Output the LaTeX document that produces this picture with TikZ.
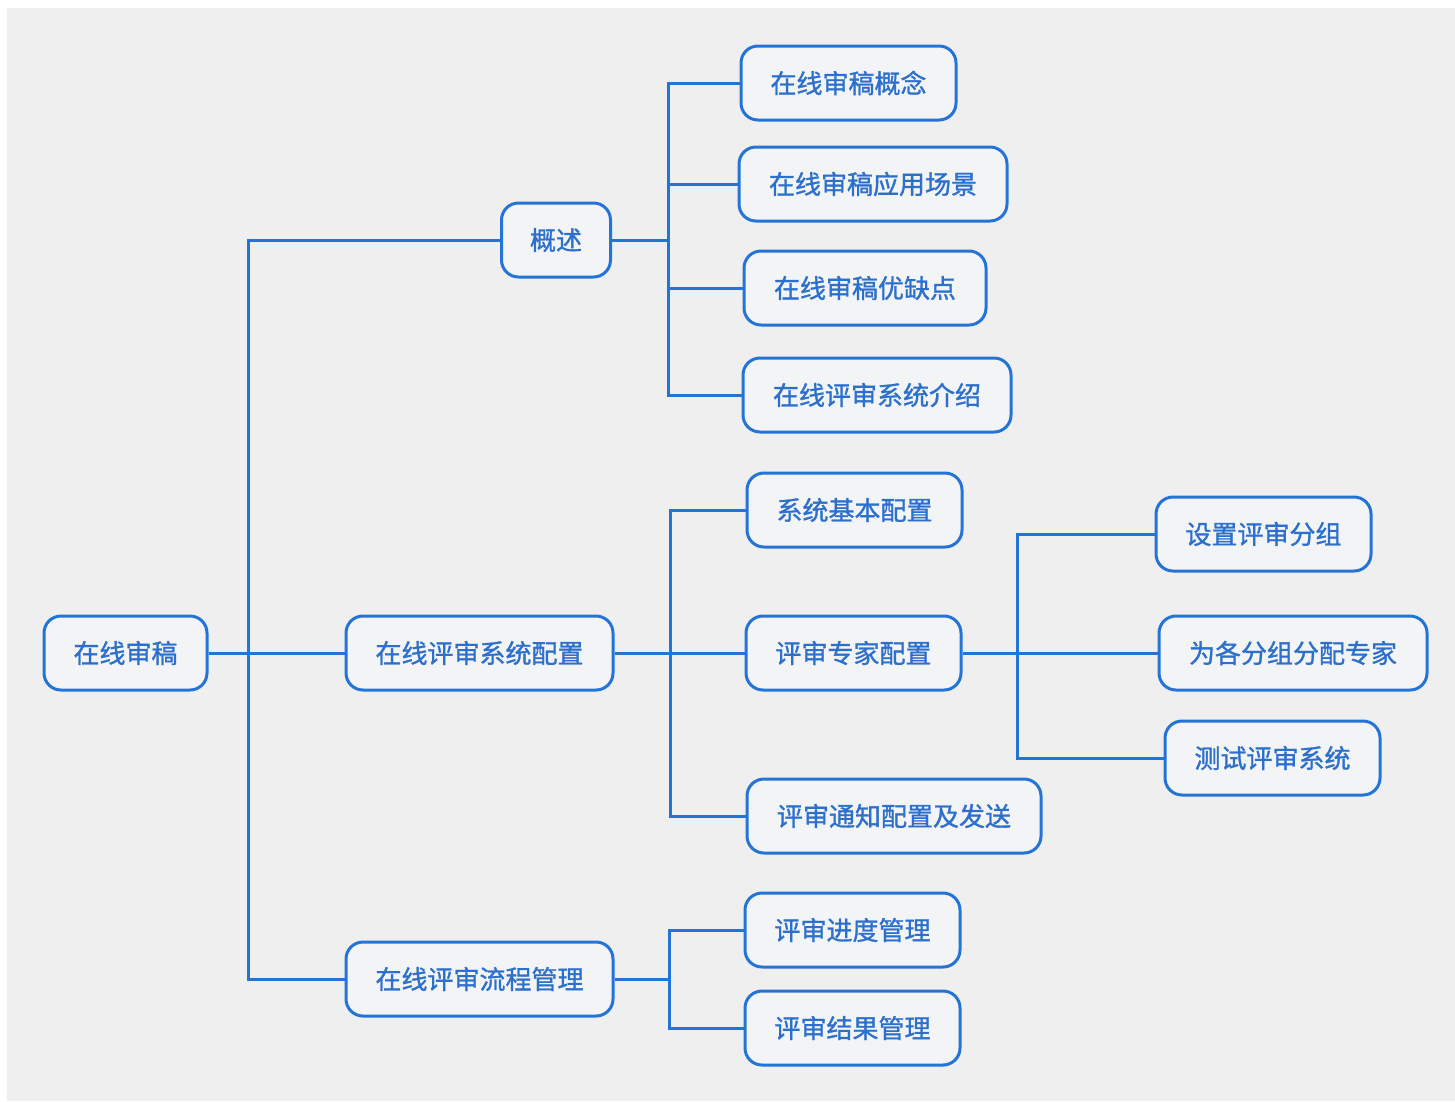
\documentclass[tikz,border=0pt]{standalone}
\usepackage{fontspec}
\newfontfamily\cjk[FakeBold=1.2]{Noto Sans CJK SC}
\definecolor{bgc}{HTML}{EFEFEF}
\definecolor{linec}{HTML}{2474D8}
\definecolor{textc}{HTML}{2D70CC}
\definecolor{boxfill}{HTML}{F3F4F6}
\tikzset{
  topic/.style={draw=linec, line width=3pt, rounded corners=17pt, fill=boxfill,
    text=textc, font=\cjk\fontsize{26}{30}\selectfont, minimum height=74pt,
    inner sep=0pt, anchor=center},
  link/.style={draw=linec, line width=3pt}
}
\begin{document}
\begin{tikzpicture}[x=1pt,y=-1pt]
\useasboundingbox (0,0) rectangle (1455,1101);
\fill[white] (0,0) rectangle (1455,1101);
\fill[bgc] (7,8) rectangle (1455,1101);

\node[topic, minimum width=163pt] (root) at (125.5,653) {在线审稿};
\node[topic, minimum width=109pt] (gs) at (556,240) {概述};
\node[topic, minimum width=267pt] (pz) at (479.5,653) {在线评审系统配置};
\node[topic, minimum width=267pt] (lc) at (479.5,979) {在线评审流程管理};

\node[topic, minimum width=215pt] (a1) at (848.5,83) {在线审稿概念};
\node[topic, minimum width=268pt] (a2) at (873,184) {在线审稿应用场景};
\node[topic, minimum width=242pt] (a3) at (865,288) {在线审稿优缺点};
\node[topic, minimum width=268pt] (a4) at (877,395) {在线评审系统介绍};

\node[topic, minimum width=215pt] (b1) at (854.5,510) {系统基本配置};
\node[topic, minimum width=215pt] (b2) at (853.5,653) {评审专家配置};
\node[topic, minimum width=294pt] (b3) at (894,816) {评审通知配置及发送};

\node[topic, minimum width=215pt] (c1) at (1263.5,534) {设置评审分组};
\node[topic, minimum width=268pt] (c2) at (1293,653) {为各分组分配专家};
\node[topic, minimum width=215pt] (c3) at (1272.5,758) {测试评审系统};

\node[topic, minimum width=215pt] (d1) at (852.5,930) {评审进度管理};
\node[topic, minimum width=215pt] (d2) at (852.5,1028) {评审结果管理};

% root
\coordinate (t0) at (248,653);
\draw[link] (root.east) -- (t0);
\draw[link] (t0) |- (gs.west);
\draw[link] (t0) -- (pz.west);
\draw[link] (t0) |- (lc.west);
% overview
\coordinate (t1) at (668,240);
\draw[link] (gs.east) -- (t1);
\foreach \n in {a1,a2,a3,a4} \draw[link] (t1) |- (\n.west);
% config
\coordinate (t2) at (670,653);
\draw[link] (pz.east) -- (t2);
\foreach \n in {b1,b2,b3} \draw[link] (t2) |- (\n.west);
% experts
\coordinate (t3) at (1017,653);
\draw[link] (b2.east) -- (t3);
\foreach \n in {c1,c2,c3} \draw[link] (t3) |- (\n.west);
% process
\coordinate (t4) at (669,979);
\draw[link] (lc.east) -- (t4);
\foreach \n in {d1,d2} \draw[link] (t4) |- (\n.west);
\end{tikzpicture}
\end{document}
